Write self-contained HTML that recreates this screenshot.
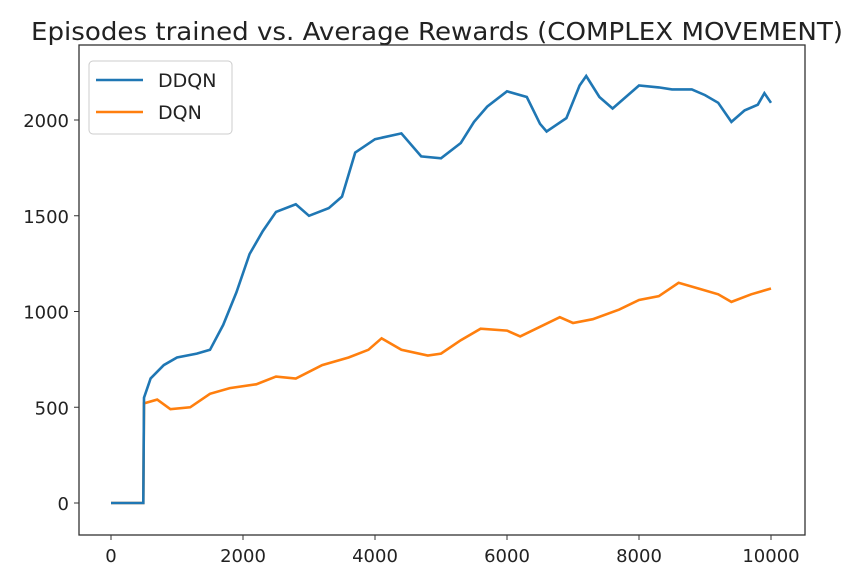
<!DOCTYPE html>
<html><head><meta charset="utf-8"><style>
body{margin:0;background:#fff;}
svg text{font-family:"DejaVu Sans","Liberation Sans",sans-serif;fill:#222;}
</style></head><body>
<svg id="chart" width="859" height="576" xmlns="http://www.w3.org/2000/svg">
<text x="437" y="40" font-size="25" text-anchor="middle" textLength="812" lengthAdjust="spacingAndGlyphs">Episodes trained vs. Average Rewards (COMPLEX MOVEMENT)</text>
<g id="plot"></g>
</svg>
<script>
const xTicks=[0,2000,4000,6000,8000,10000];
const yTicks=[0,500,1000,1500,2000];
const ddqnX=[0,490,500,600,800,1000,1300,1500,1700,1900,2100,2300,2500,2800,3000,3300,3500,3700,4000,4400,4700,5000,5300,5500,5700,6000,6300,6500,6600,6900,7100,7200,7400,7600,7800,8000,8300,8500,8800,9000,9200,9400,9600,9800,9900,10000];
const ddqnY=[0,0,550,650,720,760,780,800,930,1100,1300,1420,1520,1560,1500,1540,1600,1830,1900,1930,1810,1800,1880,1990,2070,2150,2120,1980,1940,2010,2180,2230,2120,2060,2120,2180,2170,2160,2160,2130,2090,1990,2050,2080,2140,2090];
const dqnX=[0,490,500,700,900,1200,1500,1800,2200,2500,2800,3200,3600,3900,4100,4400,4800,5000,5300,5600,6000,6200,6500,6800,7000,7300,7700,8000,8300,8600,8900,9200,9400,9700,10000];
const dqnY=[0,0,520,540,490,500,570,600,620,660,650,720,760,800,860,800,770,780,850,910,900,870,920,970,940,960,1010,1060,1080,1150,1120,1090,1050,1090,1120];
const L=79,R=805,T=45,B=535;
const sx=v=>111+(v/10000)*(771-111);
const sy=v=>503-(v/2000)*(503-120);
const g=document.getElementById('plot');
const NS='http://www.w3.org/2000/svg';
function mk(tag,attrs){const e=document.createElementNS(NS,tag);for(const k in attrs)e.setAttribute(k,attrs[k]);g.appendChild(e);return e;}
function line(xs,ys,color,name){
  const d=xs.map((x,i)=>(i?'L':'M')+sx(x).toFixed(1)+','+sy(ys[i]).toFixed(1)).join(' ');
  const p=mk('path',{d:d,fill:'none',stroke:color,'stroke-width':2.6});
  
  
}
line(dqnX,dqnY,'#ff7f0e','dqn-line');
line(ddqnX,ddqnY,'#1f77b4','ddqn-line');
const fr=mk('rect',{x:L,y:T,width:R-L,height:B-T,fill:'none',stroke:'#333','stroke-width':1.3});


xTicks.forEach(v=>{
  mk('line',{x1:sx(v),x2:sx(v),y1:B,y2:B+5,stroke:'#333'});
  const t=mk('text',{x:sx(v),y:B+27,'font-size':18,'text-anchor':'middle'});t.textContent=v;
  
  
});
yTicks.forEach(v=>{
  mk('line',{x1:L-5,x2:L,y1:sy(v),y2:sy(v),stroke:'#333'});
  const t=mk('text',{x:L-10,y:sy(v)+7,'font-size':18,'text-anchor':'end'});t.textContent=v;
  
  
});
const lg=mk('rect',{x:89,y:61,width:143,height:73,rx:4,fill:'#fff',stroke:'#ccc'});


[['DDQN','#1f77b4',80],['DQN','#ff7f0e',112]].forEach(([n,c,y])=>{
  mk('line',{x1:96,x2:143,y1:y,y2:y,stroke:c,'stroke-width':2.6});
  const t=mk('text',{x:158,y:y+7,'font-size':19});t.textContent=n;
  
  
});
</script>
</body></html>
